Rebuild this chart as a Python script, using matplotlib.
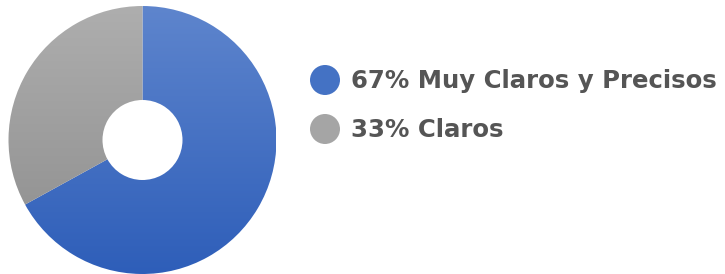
import numpy as np
import matplotlib
matplotlib.use("Agg")
import matplotlib.pyplot as plt
from matplotlib.colors import LinearSegmentedColormap
from matplotlib.patches import Circle

# data
labels = ["Muy Claros y Precisos", "Claros"]
values = [67, 33]
# gradient (top, bottom) per slice
grad_colors = [("#5E85CD", "#2E5EB9"), ("#AEAEAE", "#8C8C8C")]
legend_colors = ["#4472C4", "#A5A5A5"]

W, H = 725, 274
fig = plt.figure(figsize=(W / 100, H / 100), dpi=100)
ax = fig.add_axes([0, 0, 1, 1])

cx, cy, r, hole = 142.5, 134, 134, 40
wedges, _ = ax.pie(values, center=(cx, cy), radius=r, startangle=90,
                   counterclock=False, frame=True,
                   wedgeprops=dict(width=r - hole, linewidth=0))
ax.set_xlim(0, W)
ax.set_ylim(0, H)
ax.set_aspect("equal")
ax.axis("off")

grad = np.linspace(0, 1, 256).reshape(-1, 1)
for w, (top, bot) in zip(wedges, grad_colors):
    cmap = LinearSegmentedColormap.from_list("g", [bot, top])
    im = ax.imshow(grad, cmap=cmap, origin="lower", aspect="auto",
                   extent=(cx - r, cx + r, cy - r, cy + r), zorder=2)
    im.set_clip_path(w)
    w.set_facecolor("none")

# legend
ys = [274 - 80, 274 - 129]
for y, c, lab, v in zip(ys, legend_colors, labels, values):
    ax.add_patch(Circle((325, y), 15, color=c, lw=0))
    ax.text(351, y - 1, f"{v}% {lab}", fontsize=17.6, fontweight="bold",
            color="#555555", va="center", ha="left", family="DejaVu Sans")

fig.savefig("out.png", dpi=100)
